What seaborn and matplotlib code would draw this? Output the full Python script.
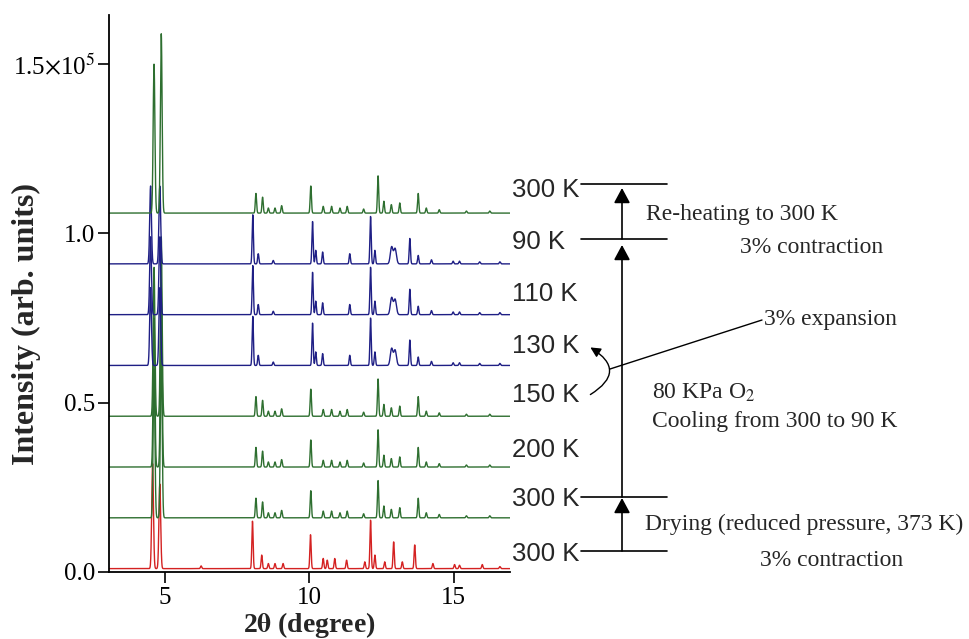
import numpy as np
import pandas as pd
import matplotlib.pyplot as plt
import seaborn as sns
from matplotlib.patches import FancyArrowPatch

# Peak lists: 2theta (degree) and height (x 1e5)
red_pos = [4.57, 4.82, 6.25, 8.03, 8.35, 8.58, 8.81, 9.09, 10.04, 10.48, 10.62,
           10.88, 11.29, 11.92, 12.12, 12.27, 12.61, 12.92, 13.22, 13.65, 14.28,
           15.03, 15.20, 15.99, 16.60]
red_hgt = [0.31, 0.25, 0.008, 0.14, 0.04, 0.015, 0.015, 0.015, 0.10, 0.03, 0.025,
           0.03, 0.025, 0.02, 0.143, 0.04, 0.02, 0.079, 0.02, 0.07, 0.015,
           0.012, 0.01, 0.012, 0.006]

green_pos = [4.62, 4.87, 8.15, 8.38, 8.58, 8.81, 9.04, 10.05, 10.48, 10.77, 11.06,
             11.31, 11.88, 12.38, 12.58, 12.84, 13.13, 13.77, 14.05, 14.50, 15.44,
             16.25]
green_hgt = [0.44, 0.53, 0.058, 0.047, 0.015, 0.015, 0.022, 0.08, 0.02, 0.02, 0.015,
             0.02, 0.012, 0.11, 0.035, 0.025, 0.03, 0.058, 0.015, 0.01, 0.006,
             0.006]

blue_pos = [4.50, 4.82, 8.04, 8.23, 8.75, 10.11, 10.22, 10.46, 11.40, 12.12, 12.27,
            12.85, 12.97, 13.48, 13.77, 14.23, 14.98, 15.20, 15.90, 16.60]
blue_hgt = [0.23, 0.23, 0.145, 0.03, 0.01, 0.125, 0.04, 0.035, 0.03, 0.14, 0.04,
            0.05, 0.045, 0.075, 0.025, 0.012, 0.008, 0.008, 0.006, 0.006]

phases = {"red": (red_pos, red_hgt), "green": (green_pos, green_hgt),
          "blue": (blue_pos, blue_hgt)}
phase_colors = {"red": "#d42222", "green": "#2e6f30", "blue": "#1f1f85"}

# stacked traces, bottom to top
trace_labels = ["300 K", "300 K", "200 K", "150 K", "130 K", "110 K", "90 K", "300 K"]
trace_phase = ["red", "green", "green", "green", "blue", "blue", "blue", "green"]
trace_offset = [0.01, 0.16, 0.31, 0.46, 0.61, 0.76, 0.91, 1.06]

yticks = [0.0, 0.5, 1.0, 1.5]
ytick_labels = ["0.0", "0.5", "1.0", r"1.5$\times$10$^5$"]
xticks = [5, 10, 15]

# build a long table for seaborn (peaks broadened with a narrow gaussian)
two_theta = np.linspace(3.06, 16.95, 5000)
rows = []
for i, (ph, off) in enumerate(zip(trace_phase, trace_offset)):
    pos, hgt = phases[ph]
    y = np.full_like(two_theta, off)
    for p, h in zip(pos, hgt):
        w = 0.03 if p < 6 else (0.045 if ph == "blue" and 12.8 < p < 13.0 else 0.022)
        y += h * np.exp(-0.5 * ((two_theta - p) / w) ** 2)
    rows.append(pd.DataFrame({"two_theta": two_theta, "intensity": y, "trace": i}))
df = pd.concat(rows, ignore_index=True)

sns.set_style("ticks")
plt.rcParams["font.family"] = ["Liberation Serif", "DejaVu Serif"]
plt.rcParams["mathtext.fontset"] = "stix"

W, H = 969, 639
fig = plt.figure(figsize=(W / 100, H / 100), dpi=100)
ax = fig.add_axes([109 / W, 1 - 572 / H, (510 - 109) / W, (572 - 15) / H])


def fp(x, y):
    # pixel position in the figure -> figure fraction
    return (x / W, 1 - y / H)


sns.lineplot(data=df, x="two_theta", y="intensity", hue="trace",
             palette=[phase_colors[p] for p in trace_phase],
             estimator=None, sort=False, legend=False, linewidth=1.0, ax=ax)

ax.set_xlim(3.06, 16.95)
ax.set_ylim(0, 1.645)
ax.set_xticks(xticks)
ax.set_yticks(yticks, labels=ytick_labels)
ax.tick_params(axis="both", direction="out", length=8, width=1.2,
               labelsize=18, color="black", labelcolor="black")
ax.tick_params(axis="y", pad=2)
ax.tick_params(axis="x", pad=3)
sns.despine(ax=ax)
for s in ["left", "bottom"]:
    ax.spines[s].set_linewidth(1.3)
    ax.spines[s].set_color("black")

ax.set_xlabel(r"2$\mathbf{\theta}$ (degree)", fontsize=20, fontweight="bold")
ax.set_ylabel("Intensity (arb. units)", fontsize=23, fontweight="bold")
ax.xaxis.set_label_coords(0.5, -0.069)
ax.yaxis.set_label_coords(-0.17, 0.445)

# temperature labels on the right
label_baselines = [561, 506, 457, 402, 353, 301, 249, 197]
for lab, yb in zip(trace_labels, label_baselines):
    fig.text(*fp(512, yb), lab, fontsize=18.5, family="Liberation Sans",
             ha="left", va="baseline")

# horizontal level bars
for yl in [184, 239, 497, 551]:
    fig.add_artist(plt.Line2D([581 / W, 667 / W], [1 - yl / H] * 2,
                              color="black", lw=1.2))

# vertical arrows
arrow_kw = dict(arrowstyle="-|>,head_length=0.65,head_width=0.35",
                mutation_scale=14, color="black", lw=1.2, shrinkA=0, shrinkB=0)
for y0, y1 in [(551, 498), (497, 245), (239, 188)]:
    ax.annotate("", xy=fp(622, y1), xytext=fp(622, y0),
                xycoords="figure fraction", textcoords="figure fraction",
                arrowprops=arrow_kw, annotation_clip=False)

# bracket between 150 K and 130 K and leader to "3% expansion"
brace = FancyArrowPatch(fp(588, 396), fp(588, 346), transform=fig.transFigure,
                        connectionstyle="arc3,rad=0.85",
                        arrowstyle="-|>,head_length=0.6,head_width=0.3",
                        mutation_scale=10, color="black", lw=1.0)
fig.add_artist(brace)
fig.add_artist(plt.Line2D([610 / W, 762 / W], [1 - 369 / H, 1 - 320 / H],
                          color="black", lw=1.0))

notes = [("Re-heating to 300 K", 646, 220),
         ("3% contraction", 740, 253),
         ("3% expansion", 764, 325),
         (r"80 KPa O$_2$", 652, 399),
         ("Cooling from 300 to 90 K", 652, 427),
         ("Drying (reduced pressure, 373 K)", 645, 530),
         ("3% contraction", 760, 566)]
for txt, x, y in notes:
    fig.text(*fp(x, y), txt, fontsize=17, ha="left", va="baseline")

fig.savefig("out.png", dpi=100)
